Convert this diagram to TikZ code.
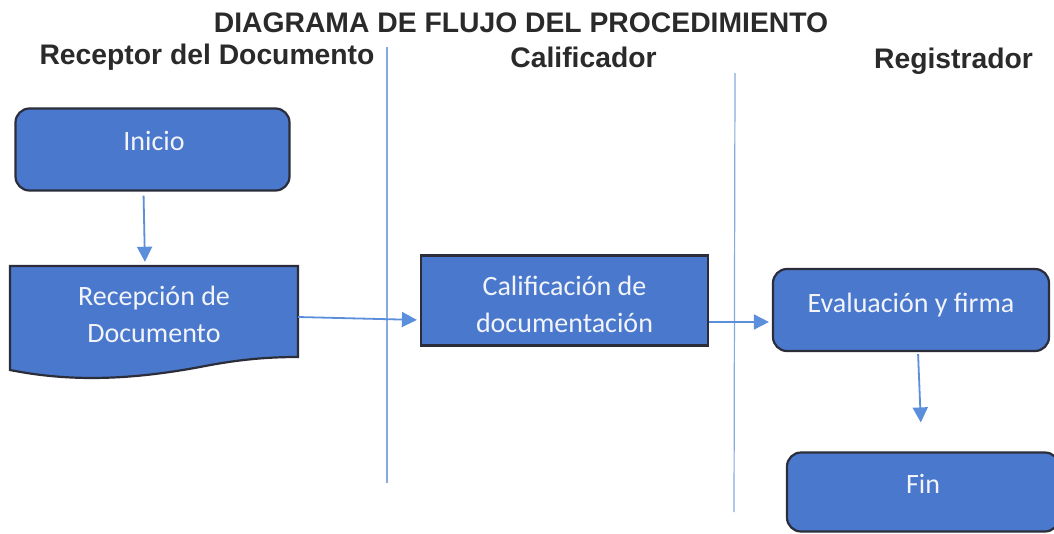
\documentclass[tikz,border=0pt]{standalone}
\usepackage{fontspec}
\setmainfont{Liberation Sans}
\newfontfamily\calfont{Carlito}
\usetikzlibrary{arrows.meta}
\definecolor{boxblue}{HTML}{4A78CC}
\definecolor{boxline}{HTML}{2B2D3A}
\definecolor{conn}{HTML}{5B8EDB}
\definecolor{laneclr}{HTML}{86A9DE}
\definecolor{ink}{HTML}{2A2A2A}
\definecolor{boxtext}{HTML}{F2F4FA}
\begin{document}
\begin{tikzpicture}[x=1pt,y=-1pt,
  box/.style={draw=boxline, line width=2.2pt, fill=boxblue, inner sep=0pt},
  rbox/.style={box, rounded corners=14pt},
  lbl/.style={text=boxtext, font=\calfont\fontsize{28}{37}\selectfont, anchor=base, inner sep=0pt},
  hdr/.style={text=ink, font=\bfseries\fontsize{28.3}{34}\selectfont, anchor=base, inner sep=0pt},
  flow/.style={draw=conn, line width=1.8pt, -{Triangle[width=15pt,length=15pt]}},
  laneline/.style={draw=laneclr, line width=1.2pt}]
\clip (0,0) rectangle (1054,533);
\fill[white] (0,0) rectangle (1054,533);

% title and lane headers
\node[hdr] (title) at (521,32) {DIAGRAMA DE FLUJO DEL PROCEDIMIENTO};
\node[hdr] (h1) at (207,64) {Receptor del Documento};
\node[hdr] (h2) at (583.5,67) {Calificador};
\node[hdr] (h3) at (953.5,68) {Registrador};

% lane separators
\coordinate (l1t) at (387,47);
\coordinate (l1b) at (387,483);
\coordinate (l2t) at (735,73);
\coordinate (l2b) at (734,512);
\draw[laneline] (l1t) -- (l1b);
\draw[laneline] (l2t) -- (l2b);

% boxes
\node[rbox, minimum width=274pt, minimum height=82pt] (ini) at (152.5,149.5) {};
\node[lbl] (iniT) at (154,150) {Inicio};

\node[minimum width=288pt, minimum height=100pt, inner sep=0pt] (rec) at (154,316) {};
\draw[box] (10,266) -- (298,266) -- (298,357)
  .. controls (270,357) and (240,359) .. (200,367)
  .. controls (130,380) and (70,382) .. (10,370) -- cycle;
\node[lbl] (recT) at (154,305) {\begin{tabular}[t]{@{}c@{}}Recepción de\\Documento\end{tabular}};

\node[box, minimum width=287pt, minimum height=90pt] (cal) at (564.5,300.5) {};
\node[lbl] (calT) at (564.5,295) {\begin{tabular}[t]{@{}c@{}}Calificación de\\documentación\end{tabular}};

\node[rbox, minimum width=276pt, minimum height=82pt] (eva) at (911,310) {};
\node[lbl] (evaT) at (911,312) {Evaluación y firma};

\node[rbox, minimum width=272pt, minimum height=79pt] (fin) at (923,492) {};
\node[lbl] (finT) at (923,493) {Fin};

% connectors
\draw[flow, shorten <=4pt, shorten >=4pt] ([xshift=-9pt]ini.south) -- ([xshift=-9pt]rec.north);
\draw[flow, shorten >=3pt] ([yshift=-1pt]rec.east) -- ([yshift=-19.5pt]cal.west);
\draw[flow, shorten >=3pt] ([yshift=-21.5pt]cal.east) -- ([yshift=-21.5pt]cal.east -| eva.west);
\draw[flow, shorten <=2pt, shorten >=29pt] ([xshift=7pt]eva.south) -- ([xshift=-1pt]fin.north);
\end{tikzpicture}
\end{document}
